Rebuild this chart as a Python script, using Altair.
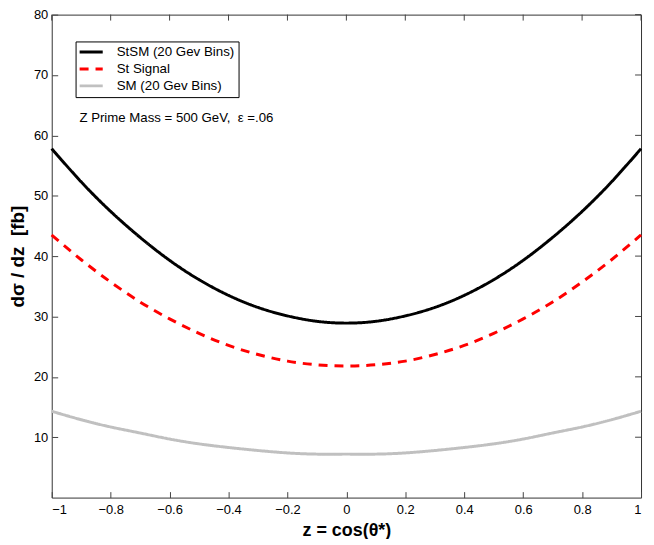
import altair as alt
import pandas as pd

# values
z = [-1.0, -0.9, -0.8, -0.7, -0.6, -0.5, -0.4, -0.3, -0.2, -0.1, 0.0,
     0.1, 0.2, 0.3, 0.4, 0.5, 0.6, 0.7, 0.8, 0.9, 1.0]
stsm = [57.8, 52.3, 47.4, 43.1, 39.3, 36.1, 33.5, 31.5, 30.1, 29.2, 28.9,
        29.2, 30.1, 31.5, 33.5, 36.1, 39.3, 43.1, 47.4, 52.3, 57.8]
signal = [43.5, 39.4, 35.7, 32.4, 29.6, 27.2, 25.2, 23.7, 22.6, 22.0, 21.8,
          22.0, 22.6, 23.7, 25.2, 27.2, 29.6, 32.4, 35.7, 39.4, 43.5]
sm = [14.3, 12.9, 11.7, 10.7, 9.7, 8.9, 8.3, 7.8, 7.4, 7.2, 7.2,
      7.2, 7.4, 7.8, 8.3, 8.9, 9.7, 10.7, 11.7, 12.9, 14.3]

series_names = ["StSM (20 Gev Bins)", "St Signal", "SM (20 Gev Bins)"]
series_colors = ["#000000", "#ff0000", "#c0c0c0"]
series_dashes = [[1, 0], [9, 7], [1, 0]]

x_ticks = [-1, -0.8, -0.6, -0.4, -0.2, 0, 0.2, 0.4, 0.6, 0.8, 1]
y_ticks = [10, 20, 30, 40, 50, 60, 70, 80]

ann_text = ["Z Prime Mass = 500 GeV, \u00a0\u03b5 =.06"]
ann_z = [-0.906]
ann_y = [62.9]

W, H = 593, 486
TL = 6  # tick length

rows = []
for name, vals in zip(series_names, [stsm, signal, sm]):
    for zi, v in zip(z, vals):
        rows.append({"z": zi, "v": v, "series": name})
df = pd.DataFrame(rows)
ann = pd.DataFrame({"z": ann_z, "v": ann_y, "t": ann_text})
xt = pd.DataFrame({"tz": x_ticks})
yt = pd.DataFrame({"tv": y_ticks})

FONT = "Liberation Sans"
TC = "#444444"
xs = alt.Scale(domain=[-1, 1], nice=False, zero=False)
ys = alt.Scale(domain=[0, 80], nice=False)

leg = alt.Legend(title=None, orient="none", legendX=24, legendY=27,
                 symbolType="M-3,0H3", symbolSize=60, symbolStrokeWidth=3,
                 symbolOffset=5,
                 labelFontSize=13.4, labelFont=FONT, labelColor="#000",
                 labelOffset=19, rowPadding=2, padding=4,
                 strokeColor="#000", fillColor="white")

# axes displaced inward by the tick length so ticks point into the plot
lines = alt.Chart(df).mark_line(strokeWidth=3, interpolate="natural").encode(
    x=alt.X("z:Q", scale=xs,
            axis=alt.Axis(orient="bottom", values=x_ticks, format=".1~f",
                          ticks=True, tickSize=TL, offset=-TL, tickColor=TC,
                          tickWidth=1, domain=False, labelPadding=6,
                          labelFontSize=13, labelFont=FONT, labelColor="#000",
                          title="z = cos(\u03b8*)", titleFontSize=18,
                          titleFont=FONT, titleFontWeight="bold",
                          titleColor="#000", titlePadding=5)),
    y=alt.Y("v:Q", scale=ys,
            axis=alt.Axis(orient="left", values=y_ticks, format="d",
                          ticks=True, tickSize=TL, offset=-TL, tickColor=TC,
                          tickWidth=1, domain=False, labelPadding=4,
                          labelFontSize=13, labelFont=FONT, labelColor="#000",
                          title="d\u03c3 / dz \u00a0[fb]", titleFontSize=19,
                          titleFont=FONT, titleFontWeight="bold",
                          titleColor="#000", titlePadding=6)),
    color=alt.Color("series:N", scale=alt.Scale(domain=series_names, range=series_colors), legend=leg),
    strokeDash=alt.StrokeDash("series:N", scale=alt.Scale(domain=series_names, range=series_dashes), legend=leg),
)

xt_top = alt.Chart(xt).mark_rule(color=TC, strokeWidth=1).encode(
    x=alt.X("tz:Q", scale=xs), y=alt.value(0), y2=alt.value(TL))
yt_right = alt.Chart(yt).mark_rule(color=TC, strokeWidth=1).encode(
    y=alt.Y("tv:Q", scale=ys), x=alt.value(W - TL), x2=alt.value(W))

text = alt.Chart(ann).mark_text(align="left", baseline="middle", fontSize=13.3,
                                font=FONT, color="#000").encode(
    x=alt.X("z:Q", scale=xs),
    y=alt.Y("v:Q", scale=ys),
    text="t:N",
)

chart = alt.layer(lines, text, xt_top, yt_right).properties(
    width=W, height=H,
    autosize=alt.AutoSizeParams(type="none"),
    padding={"left": 44, "top": 5, "right": 5, "bottom": 40},
    background="white",
).configure_view(stroke="#333", strokeWidth=1).configure_axis(grid=False)

chart.save("out.html", embed_options={"renderer": "svg", "actions": False})
